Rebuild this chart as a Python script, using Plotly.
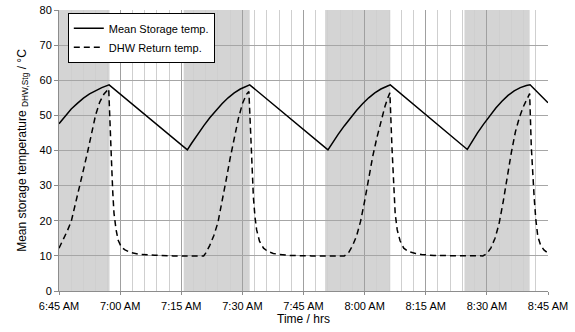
import pandas as pd
import plotly.graph_objects as go

# ---- data (time in minutes after 6:45 AM) ----
storage_t = [0, 1.5, 3, 4.5, 6, 7.5, 9, 10.5, 12.3,
             31.5, 32.5, 34, 35.5, 37, 38.5, 40, 41.5, 43, 44.5, 46, 46.8,
             66.0, 67, 68.5, 70, 71.5, 73, 74.5, 76, 77.5, 79, 80.5, 81.3,
             100.2, 101.2, 102.7, 104.2, 105.7, 107.2, 108.7, 110.2, 111.7, 113.2, 114.7, 115.6,
             120]
storage_v = [47.6, 49.8, 51.8, 53.4, 54.9, 56.1, 57.1, 57.9, 58.7,
             40.2, 42.0, 44.6, 47.0, 49.3, 51.4, 53.3, 55.0, 56.4, 57.5, 58.3, 58.7,
             40.2, 42.0, 44.6, 47.0, 49.3, 51.4, 53.3, 55.0, 56.4, 57.5, 58.3, 58.7,
             40.3, 42.3, 45.0, 47.5, 49.9, 52.1, 54.0, 55.7, 57.0, 57.9, 58.5, 58.7,
             53.6]

dhw_t = [0, 1, 2, 3, 4, 5, 6, 7, 8, 9, 10, 11, 12.2, 12.6, 12.9, 13.2, 13.5, 14, 14.5, 15.3, 16.2, 17.5, 18.6, 20, 23.5, 28,
         35.5, 36, 37, 38, 39, 40, 41, 42, 43, 44, 45, 46, 46.6, 47.1, 47.4, 47.7, 48.1, 48.5, 49.2, 50.2, 51.3, 52.6, 54, 57, 62,
         70, 71, 72, 73, 74, 75, 76, 77, 78, 79, 80, 80.8, 81.2, 81.7, 82.1, 82.5, 83.0, 83.7, 84.6, 85.8, 87.5, 89, 92, 97,
         104, 105, 106, 107, 108, 109, 110, 111, 112, 113, 114, 115, 115.5, 115.9, 116.2, 116.6, 117, 117.5, 118.2, 119, 120]
dhw_v = [12.2, 14.5, 17.0, 19.8, 24.5, 29.2, 34.5, 39.5, 45.0, 50.2, 53.8, 56.0, 57.6, 48.0, 36.4, 28.0, 22.1, 17.5, 14.5, 12.5, 11.7, 11.0, 10.7, 10.4, 10.2, 10.0,
         10.0, 10.8, 13.0, 15.8, 19.5, 25.0, 31.5, 37.8, 43.8, 49.0, 53.3, 56.0, 56.8, 41.1, 33.0, 26.8, 21.0, 17.4, 14.2, 12.2, 11.2, 10.7, 10.4, 10.1, 10.0,
         10.0, 10.8, 12.8, 15.6, 19.8, 25.6, 32.2, 38.4, 43.6, 48.3, 52.6, 55.3, 56.4, 41.1, 28.8, 22.0, 17.4, 14.3, 12.2, 11.2, 10.7, 10.4, 10.1, 10.0,
         10.0, 10.6, 12.3, 15.0, 19.2, 25.4, 32.5, 39.4, 45.3, 49.5, 52.6, 55.2, 56.2, 41.1, 33.0, 26.8, 20.5, 15.5, 13.0, 11.7, 10.8]

shade_start = [0, 30.6, 65.3, 99.5]
shade_end = [12.4, 46.8, 81.3, 115.5]

y_ticks = [0, 10, 20, 30, 40, 50, 60, 70, 80]

base = pd.Timestamp("2000-01-01 06:45")
def to_time(mins):
    return [base + pd.Timedelta(minutes=m) for m in mins]

FONT = "Liberation Sans, Arial, sans-serif"

fig = go.Figure()
fig.add_trace(go.Scatter(x=to_time(storage_t), y=storage_v, mode="lines",
                         name="Mean Storage temp.", legendgroup="a",
                         line=dict(color="black", width=1.5)))
fig.add_trace(go.Scatter(x=to_time(dhw_t), y=dhw_v, mode="lines",
                         name="DHW Return temp.", legendgroup="b",
                         line=dict(color="black", width=1.5, dash="6px,4px")))

for s, e in zip(to_time(shade_start), to_time(shade_end)):
    fig.add_shape(type="rect", xref="x", yref="y", x0=s, x1=e, y0=0, y1=80,
                  fillcolor="rgba(0,0,0,0.17)", line=dict(width=0), layer="below")

fig.update_layout(
    width=575, height=332,
    margin=dict(l=59, r=27, t=10, b=41),
    paper_bgcolor="white", plot_bgcolor="white",
    font=dict(family=FONT, size=11, color="black"),
    showlegend=True,
    legend=dict(x=0.018, y=0.99, xanchor="left", yanchor="top",
                bgcolor="white", bordercolor="black", borderwidth=1,
                font=dict(size=11), tracegroupgap=0, itemwidth=30),
    xaxis=dict(
        type="date", automargin=False,
        range=[base, base + pd.Timedelta(minutes=120)],
        tick0=base, dtick=15 * 60 * 1000,
        tickformat="%-I:%M %p",
        showgrid=True, gridcolor="#a0a0a0", gridwidth=1,
        showline=True, linecolor="#8c8c8c", linewidth=1,
        ticks="outside", ticklen=3, tickcolor="#8c8c8c",
        ticklabelstandoff=2,
        minor=dict(dtick=3 * 60 * 1000, tick0=base, showgrid=True,
                   gridcolor="#cfcfcf", gridwidth=1),
        title=dict(text="Time / hrs", font=dict(size=12), standoff=0),
        tickfont=dict(size=11),
    ),
    yaxis=dict(
        range=[0, 80], tickvals=y_ticks, automargin=False,
        showgrid=True, gridcolor="#a6a6a6", gridwidth=1,
        showline=True, linecolor="#8c8c8c", linewidth=1,
        ticks="outside", ticklen=4, tickcolor="#8c8c8c",
        zeroline=False,
        title=dict(text="Mean storage temperature <sub>DHW,Stg</sub> / °C",
                   font=dict(size=12), standoff=10),
        tickfont=dict(size=11),
    ),
)

# remove the default 8px page margin so the figure sits at the window's top-left
fig.write_html("out.html", config={"displayModeBar": False},
               post_script="document.body.style.margin='0';")
